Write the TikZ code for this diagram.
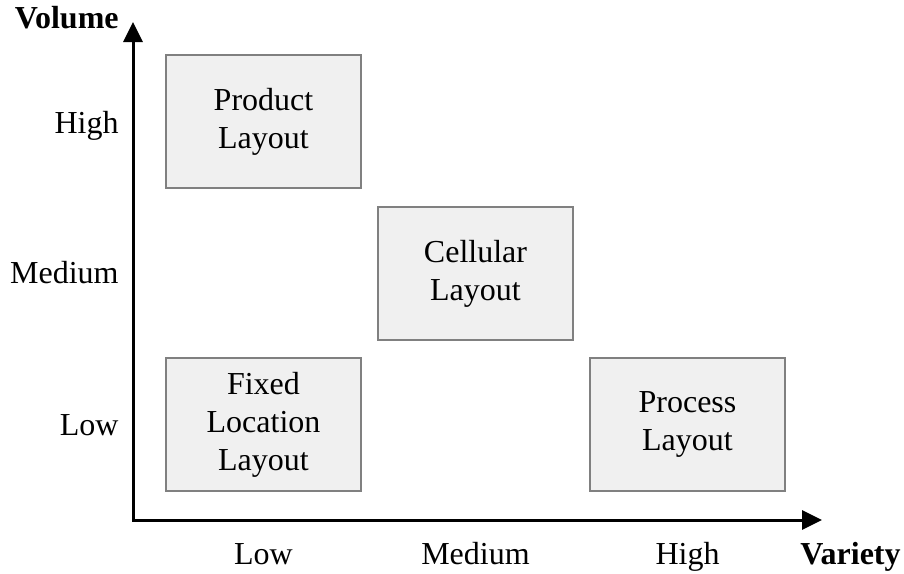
\documentclass[tikz,border=0pt]{standalone}
\usepackage{fontspec}
\setmainfont{Liberation Serif}
\usetikzlibrary{positioning}
\usetikzlibrary{arrows.meta}
\tikzset{>={Triangle[width=9.5pt,length=10pt]}}

\begin{document}
\begin{tikzpicture}[x=0.5pt, y=-0.5pt, layout/.style={rectangle, draw=black!50, fill=black!6, line width=1pt, minimum width=97.5pt, minimum height=66.5pt, align=center, font=\fontsize{16}{19}\selectfont}, axislabel/.style={font=\fontsize{16}{19}\selectfont, inner sep=0pt}, axisname/.style={font=\fontsize{16}{19}\selectfont\bfseries, inner sep=0pt}]
    \useasboundingbox (0,0) rectangle (904,573);

    %Nodes
    \coordinate (origin) at (133,520);
    \coordinate (vtip) at (133,22);
    \coordinate (htip) at (822,520);

    \node[layout](product) at (263.5,121.5){Product\\Layout};
    \node[layout](cellular)[below right=8.5pt and 7.5pt of product]{Cellular\\Layout};
    \node[layout](fixed)[below left=8pt and 7.5pt of cellular]{Fixed\\Location\\Layout};
    \node[layout](process)[right=113.5pt of fixed]{Process\\Layout};

    \node[axisname, anchor=base east](volume) at (119,28){Volume};
    \node[axislabel, anchor=base east](vol_high) at (119,133){High};
    \node[axislabel, anchor=base east](vol_medium) at (119,283){Medium};
    \node[axislabel, anchor=base east](vol_low) at (119,435){Low};

    \node[axislabel, anchor=base](var_low) at (263.5,564){Low};
    \node[axislabel, anchor=base](var_medium) at (475.5,564){Medium};
    \node[axislabel, anchor=base](var_high) at (687.5,564){High};
    \node[axisname, anchor=base east](variety) at (901,564){Variety};

    %Lines
    \draw[<->, line width=1.5pt] (vtip) -- (origin) -- (htip);

\end{tikzpicture}
\end{document}
